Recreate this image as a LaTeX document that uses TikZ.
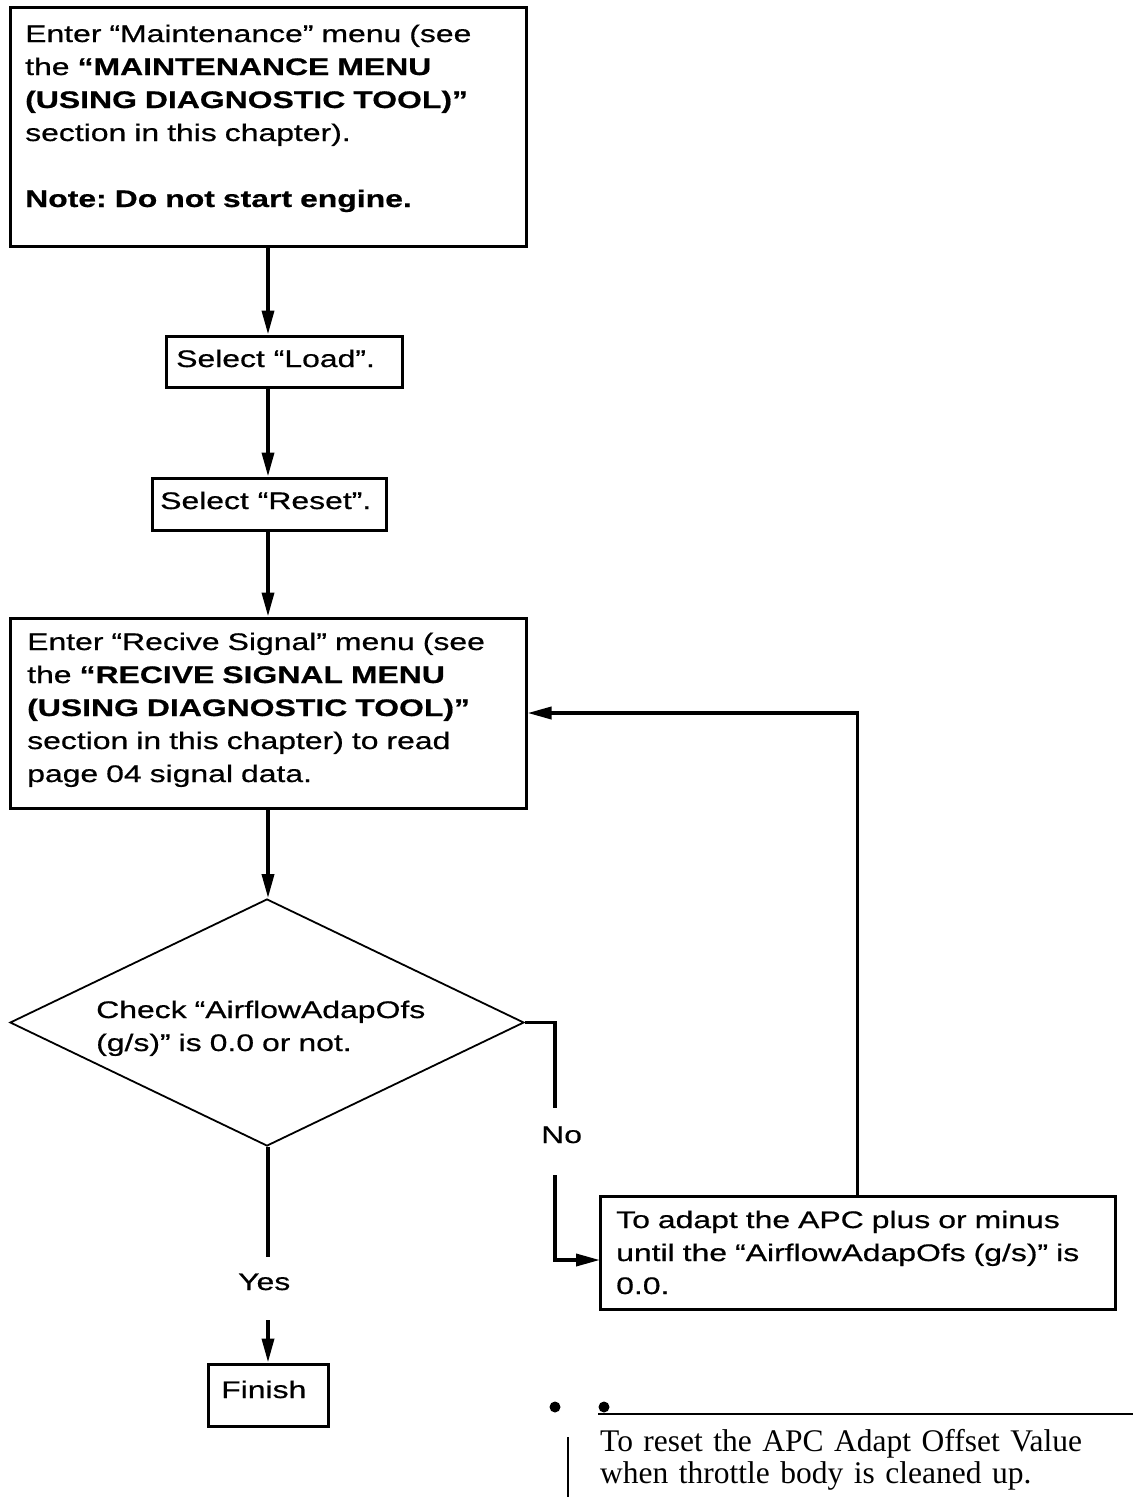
\documentclass[tikz,border=0pt]{standalone}
\usepackage{fontspec}
\setmainfont{Liberation Sans}
\newfontfamily\diafont[FakeStretch=1.33,FakeBold=0.6]{Liberation Sans}
\newfontfamily\notefont{Liberation Serif}
\usetikzlibrary{shapes.geometric,arrows.meta}
\frenchspacing
\begin{document}
\begin{tikzpicture}[x=1pt,y=-1pt,
  box/.style={draw,line width=3pt,inner sep=0pt,rectangle},
  txt/.style={anchor=base west,inner sep=0pt,align=left,font=\diafont\fontsize{24}{33}\selectfont},
  lbl/.style={anchor=base west,inner sep=0pt,font=\diafont\fontsize{24}{33}\selectfont},
  arr/.style={line width=3.6pt,-{Triangle[length=24pt,width=12pt]}},
  ln/.style={line width=3.6pt},
]
\useasboundingbox (0,0) rectangle (1133,1497);
% boxes
\node[box,minimum width=516pt,minimum height=239pt] (b1) at (268,126.5) {};
\node[txt,text width=500pt] (t1) at (25,42) {Enter “Maintenance” menu (see\\the \textbf{“MAINTENANCE MENU}\\\textbf{(USING DIAGNOSTIC TOOL)”}\\section in this chapter).\\[33pt]\textbf{Note: Do not start engine.}};
\node[box,minimum width=236pt,minimum height=51pt] (load) at (284,361.5) {};
\node[lbl] (tload) at (176,367) {Select “Load”.};
\node[box,minimum width=234pt,minimum height=52pt] (reset) at (269,504) {};
\node[lbl] (treset) at (160,509) {Select “Reset”.};
\node[box,minimum width=516pt,minimum height=190pt] (recv) at (268,713) {};
\node[txt,text width=500pt] (trecv) at (27,650) {Enter “Recive Signal” menu (see\\the \textbf{“RECIVE SIGNAL MENU}\\\textbf{(USING DIAGNOSTIC TOOL)”}\\section in this chapter) to read\\page 04 signal data.};
\node[draw,diamond,line width=1.8pt,inner sep=0pt,minimum width=514pt,minimum height=247pt] (dia) at (267,1022.5) {};
\node[txt,text width=400pt] (tdia) at (96,1018) {Check “AirflowAdapOfs\\(g/s)” is 0.0 or not.};
\node[box,minimum width=515pt,minimum height=113pt] (apc) at (857.5,1252.5) {};
\node[txt,text width=500pt] (tapc) at (616,1228) {To adapt the APC plus or minus\\until the “AirflowAdapOfs (g/s)” is\\0.0.};
\node[box,minimum width=120pt,minimum height=62pt] (fin) at (268,1395) {};
\node[lbl] (tfin) at (221,1398) {Finish};
% labels
\node[lbl] (no) at (541,1143) {No};
\node[lbl] (yes) at (238,1290) {Yes};
% coordinates
\coordinate (noA) at (555,1108);
\coordinate (noB) at (555,1175);
\coordinate (apcin) at (600,1260);
\coordinate (yesA) at (268,1257);
\coordinate (yesB) at (268,1320);
% connectors
\draw[arr] (b1.south) -- (load.north -| b1.south);
\draw[arr] (load.south -| b1.south) -- (reset.north -| b1.south);
\draw[arr] (reset.south -| b1.south) -- (recv.north);
\draw[arr] (recv.south) -- (dia.north -| recv.south);
\draw[ln] (dia.east) -- (dia.east -| noA) -- (noA);
\draw[arr] (noB) |- (apcin);
\draw[arr] (apc.north) |- (recv.east);
\draw[ln] (dia.south -| b1.south) -- (yesA);
\draw[arr] (yesB) -- (fin.north);
% bottom note
\fill (555,1407) circle (5.5pt);
\fill (604,1407) circle (5.5pt);
\coordinate (ruleA) at (598,1414);
\coordinate (ruleB) at (1133,1414);
\draw[line width=2pt] (ruleA) -- (ruleB);
\coordinate (barA) at (568,1437);
\coordinate (barB) at (568,1497);
\draw[line width=2pt] (barA) -- (barB);
\node[anchor=base west,inner sep=0pt,align=left,text width=530pt,font=\notefont\fontsize{31.5}{32}\selectfont] (note) at (600,1451) {To reset the APC Adapt Offset Value\\when throttle body is cleaned up.};
\end{tikzpicture}
\end{document}
